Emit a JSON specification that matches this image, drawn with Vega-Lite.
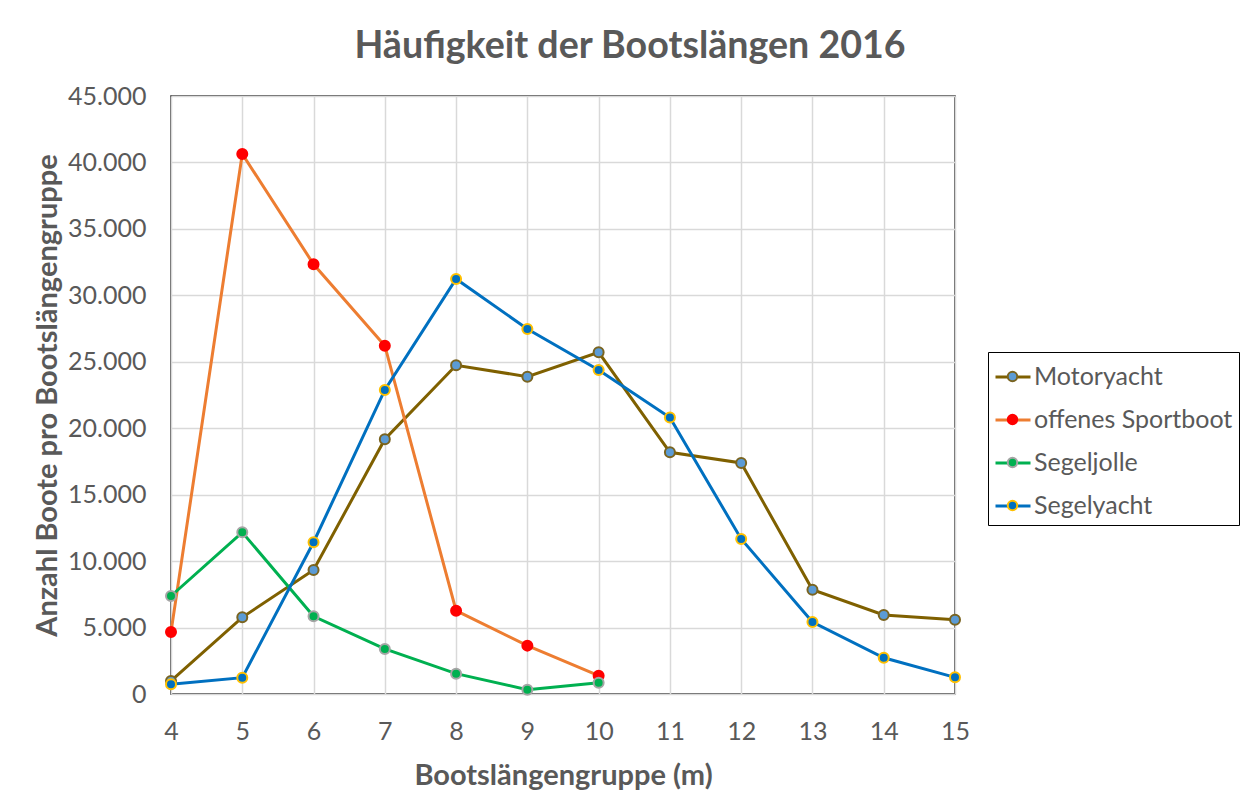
{
  "$schema": "https://vega.github.io/schema/vega-lite/v6.json",
  "autosize": {"type": "none"},
  "padding": {"left": 171, "top": 96, "right": 290, "bottom": 109},
  "width": 784,
  "height": 598,
  "background": "white",
  "title": {
    "text": "Häufigkeit der Bootslängen 2016",
    "anchor": "middle",
    "frame": "group",
    "dx": 67,
    "offset": 18,
    "font": "Lato",
    "fontSize": 37.6,
    "fontWeight": "bold",
    "color": "#595959"
  },
  "data": {
    "values": [
      {"laenge": 4, "anzahl": 980, "typ": "Motoryacht"},
      {"laenge": 5, "anzahl": 5770, "typ": "Motoryacht"},
      {"laenge": 6, "anzahl": 9330, "typ": "Motoryacht"},
      {"laenge": 7, "anzahl": 19170, "typ": "Motoryacht"},
      {"laenge": 8, "anzahl": 24740, "typ": "Motoryacht"},
      {"laenge": 9, "anzahl": 23880, "typ": "Motoryacht"},
      {"laenge": 10, "anzahl": 25715, "typ": "Motoryacht"},
      {"laenge": 11, "anzahl": 18190, "typ": "Motoryacht"},
      {"laenge": 12, "anzahl": 17385, "typ": "Motoryacht"},
      {"laenge": 13, "anzahl": 7850, "typ": "Motoryacht"},
      {"laenge": 14, "anzahl": 5945, "typ": "Motoryacht"},
      {"laenge": 15, "anzahl": 5590, "typ": "Motoryacht"},
      {"laenge": 4, "anzahl": 4665, "typ": "offenes Sportboot"},
      {"laenge": 5, "anzahl": 40640, "typ": "offenes Sportboot"},
      {"laenge": 6, "anzahl": 32340, "typ": "offenes Sportboot"},
      {"laenge": 7, "anzahl": 26210, "typ": "offenes Sportboot"},
      {"laenge": 8, "anzahl": 6270, "typ": "offenes Sportboot"},
      {"laenge": 9, "anzahl": 3640, "typ": "offenes Sportboot"},
      {"laenge": 10, "anzahl": 1380, "typ": "offenes Sportboot"},
      {"laenge": 4, "anzahl": 7375, "typ": "Segeljolle"},
      {"laenge": 5, "anzahl": 12170, "typ": "Segeljolle"},
      {"laenge": 6, "anzahl": 5850, "typ": "Segeljolle"},
      {"laenge": 7, "anzahl": 3390, "typ": "Segeljolle"},
      {"laenge": 8, "anzahl": 1530, "typ": "Segeljolle"},
      {"laenge": 9, "anzahl": 325, "typ": "Segeljolle"},
      {"laenge": 10, "anzahl": 850, "typ": "Segeljolle"},
      {"laenge": 4, "anzahl": 730, "typ": "Segelyacht"},
      {"laenge": 5, "anzahl": 1230, "typ": "Segelyacht"},
      {"laenge": 6, "anzahl": 11420, "typ": "Segelyacht"},
      {"laenge": 7, "anzahl": 22880, "typ": "Segelyacht"},
      {"laenge": 8, "anzahl": 31230, "typ": "Segelyacht"},
      {"laenge": 9, "anzahl": 27470, "typ": "Segelyacht"},
      {"laenge": 10, "anzahl": 24385, "typ": "Segelyacht"},
      {"laenge": 11, "anzahl": 20810, "typ": "Segelyacht"},
      {"laenge": 12, "anzahl": 11665, "typ": "Segelyacht"},
      {"laenge": 13, "anzahl": 5420, "typ": "Segelyacht"},
      {"laenge": 14, "anzahl": 2730, "typ": "Segelyacht"},
      {"laenge": 15, "anzahl": 1255, "typ": "Segelyacht"}
    ]
  },
  "encoding": {
    "x": {
      "field": "laenge",
      "type": "quantitative",
      "scale": {"domain": [4, 15], "nice": false, "zero": false},
      "axis": {
        "title": "Bootslängengruppe (m)",
        "values": [4, 5, 6, 7, 8, 9, 10, 11, 12, 13, 14, 15],
        "format": "d",
        "ticks": false,
        "tickSize": 0,
        "domain": false,
        "labelPadding": 25,
        "labelFont": "Lato",
        "labelFontSize": 25,
        "labelColor": "#595959",
        "labelFlush": false,
        "titleFont": "Lato",
        "titleFontSize": 29,
        "titleFontWeight": "bold",
        "titleColor": "#595959",
        "titlePadding": 17,
        "gridColor": "#D9D9D9",
        "gridWidth": 1.5
      }
    },
    "y": {
      "field": "anzahl",
      "type": "quantitative",
      "scale": {"domain": [0, 45000], "nice": false},
      "axis": {
        "title": "Anzahl Boote pro Bootslängengruppe",
        "values": [0, 5000, 10000, 15000, 20000, 25000, 30000, 35000, 40000, 45000],
        "labelExpr": "replace(format(datum.value, ','), ',', '.')",
        "ticks": false,
        "tickSize": 0,
        "domain": false,
        "labelPadding": 25,
        "labelFont": "Lato",
        "labelFontSize": 25,
        "labelColor": "#595959",
        "titleFont": "Lato",
        "titleFontSize": 29,
        "titleFontWeight": "bold",
        "titleColor": "#595959",
        "titlePadding": 5,
        "gridColor": "#D9D9D9",
        "gridWidth": 1.5
      }
    }
  },
  "layer": [
    {
      "mark": {"type": "line", "strokeWidth": 3},
      "encoding": {
        "stroke": {
          "field": "typ",
          "type": "nominal",
          "scale": {
            "domain": ["Motoryacht", "offenes Sportboot", "Segeljolle", "Segelyacht"],
            "range": ["#7F6000", "#ED7D31", "#00B050", "#0070C0"]
          },
          "legend": {
            "title": null,
            "orient": "none",
            "legendX": 817,
            "legendY": 256,
            "symbolType": "M-1,0H-0.28M0.28,0H1",
            "symbolSize": 1225,
            "symbolStrokeWidth": 3,
            "labelFont": "Lato",
            "labelFontSize": 25,
            "labelColor": "#595959",
            "labelOffset": 2,
            "labelLimit": 400,
            "rowPadding": 11,
            "padding": 6,
            "strokeColor": "black"
          }
        }
      }
    },
    {
      "mark": {"type": "point", "filled": true, "size": 100, "strokeWidth": 2, "opacity": 1},
      "encoding": {
        "fill": {
          "field": "typ",
          "type": "nominal",
          "scale": {
            "domain": ["Motoryacht", "offenes Sportboot", "Segeljolle", "Segelyacht"],
            "range": ["#5B9BD5", "#FF0000", "#00B050", "#0070C0"]
          },
          "legend": {
            "title": null,
            "orient": "none",
            "legendX": 817,
            "legendY": 256,
            "symbolType": "M-0.27,0A0.27,0.27 0 1,0 0.27,0A0.27,0.27 0 1,0 -0.27,0Z",
            "symbolSize": 1225,
            "symbolStrokeWidth": 2,
            "symbolStrokeColor": "transparent",
            "symbolOpacity": 1,
            "labelExpr": "' '",
            "labelFont": "Lato",
            "labelFontSize": 25,
            "labelColor": "#595959",
            "labelOffset": 2,
            "labelLimit": 400,
            "rowPadding": 11,
            "padding": 6
          }
        },
        "stroke": {
          "field": "typ",
          "type": "nominal",
          "scale": {
            "domain": ["Motoryacht", "offenes Sportboot", "Segeljolle", "Segelyacht"],
            "range": ["#7A6420", "#FF0000", "#A5A5A5", "#FFC000"]
          },
          "legend": {
            "title": null,
            "orient": "none",
            "legendX": 817,
            "legendY": 256,
            "symbolType": "M-0.27,0A0.27,0.27 0 1,0 0.27,0A0.27,0.27 0 1,0 -0.27,0Z",
            "symbolSize": 1225,
            "symbolStrokeWidth": 2,
            "symbolFillColor": "transparent",
            "symbolOpacity": 1,
            "labelExpr": "' '",
            "labelFont": "Lato",
            "labelFontSize": 25,
            "labelColor": "#595959",
            "labelOffset": 2,
            "labelLimit": 400,
            "rowPadding": 11,
            "padding": 6
          }
        }
      }
    }
  ],
  "resolve": {"scale": {"stroke": "independent"}, "legend": {"stroke": "independent"}},
  "config": {
    "view": {"stroke": "#262626", "strokeWidth": 1.5},
    "font": "Lato"
  }
}
